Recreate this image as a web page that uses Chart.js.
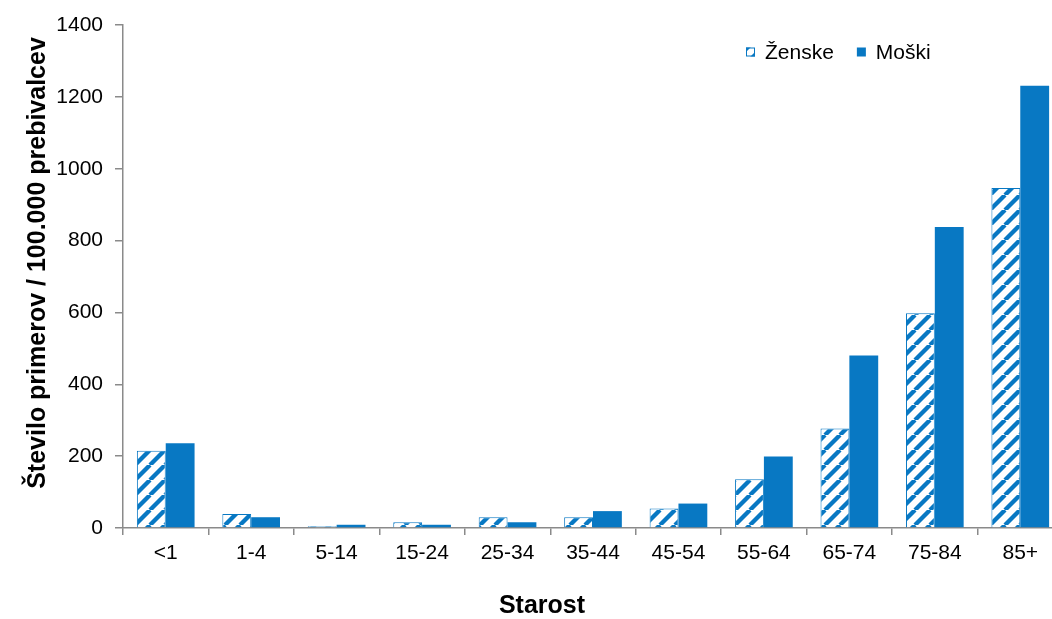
<!DOCTYPE html>
<html><head><meta charset="utf-8">
<script src="https://cdn.jsdelivr.net/npm/chart.js@4"></script>
<style>html,body{margin:0;padding:0;background:#fff;overflow:hidden}#wrap{width:1068px;height:619px}</style>
</head><body><div id="wrap"><canvas id="c" width="1068" height="619"></canvas></div>
<script>
const categories = ['<1','1-4','5-14','15-24','25-34','35-44','45-54','55-64','65-74','75-84','85+'];
const zenske = [215, 39, 5, 16, 30, 30, 54, 136, 277, 598, 946];
const moski = [236, 30, 9, 9, 16, 47, 68, 199, 480, 838, 1231];
const seriesLabels = ['Ženske', 'Moški'];
const yMin = 0, yMax = 1400, yStep = 200;
const yTitle = 'Število primerov / 100.000 prebivalcev';
const xTitle = 'Starost';

const BLUE = '#0878C3';
const AXIS = '#8a8a8a';
const FONT = '"Liberation Sans", Arial, sans-serif';

function hatch() {
  const s = 15;
  const c = document.createElement('canvas');
  c.width = c.height = s;
  const g = c.getContext('2d');
  g.fillStyle = '#fff';
  g.fillRect(0, 0, s, s);
  g.strokeStyle = BLUE;
  g.lineWidth = 4.3;
  g.beginPath();
  for (const k of [-s, 0, s]) { g.moveTo(k, s); g.lineTo(k + s, 0); }
  g.stroke();
  return g.createPattern(c, 'repeat');
}
const hatchPattern = hatch();

const overlay = {
  id: 'overlay',
  afterDraw(chart) {
    const ctx = chart.ctx;
    ctx.save();
    ctx.fillStyle = '#000';
    ctx.font = 'bold 25px ' + FONT;
    ctx.textAlign = 'center';
    ctx.textBaseline = 'middle';
    ctx.fillText(xTitle, 542, 606);
    ctx.save();
    ctx.translate(38, 263);
    ctx.rotate(-Math.PI / 2);
    ctx.fillText(yTitle, 0, 0);
    ctx.restore();
    ctx.font = '21px ' + FONT;
    ctx.textAlign = 'left';
    let x = 746;
    const yc = 52, bs = 9;
    chart.data.datasets.forEach(ds => {
      ctx.fillStyle = ds.backgroundColor;
      ctx.fillRect(x, yc - bs / 2, bs, bs);
      if (ds.borderWidth) {
        ctx.strokeStyle = ds.borderColor;
        ctx.lineWidth = 1;
        ctx.strokeRect(x + 0.5, yc - bs / 2 + 0.5, bs - 1, bs - 1);
      }
      ctx.fillStyle = '#000';
      ctx.fillText(ds.label, x + bs + 10, yc + 1);
      x += bs + 10 + ctx.measureText(ds.label).width + 23;
    });
    ctx.restore();
  }
};

new Chart(document.getElementById('c'), {
  type: 'bar',
  data: {
    labels: categories,
    datasets: [
      { label: seriesLabels[0], data: zenske, backgroundColor: hatchPattern, borderColor: BLUE, borderWidth: 1 },
      { label: seriesLabels[1], data: moski, backgroundColor: BLUE, borderWidth: 0 }
    ]
  },
  options: {
    responsive: false,
    animation: false,
    events: [],
    layout: { padding: { top: 25, left: 0, right: 5, bottom: 0 } },
    datasets: { bar: { categoryPercentage: 0.675, barPercentage: 1.0 } },
    plugins: { legend: { display: false }, tooltip: { enabled: false } },
    scales: {
      x: {
        offset: true,
        grid: { offset: true, drawOnChartArea: false, drawTicks: true, tickLength: 7, color: AXIS, lineWidth: 1.5 },
        border: { color: AXIS, width: 1.5 },
        ticks: { color: '#000', font: { family: FONT, size: 21 }, padding: 6, maxRotation: 0, autoSkip: false },
        afterFit(s) { s.height = 91; s.paddingLeft = 0; s.paddingRight = 0; }
      },
      y: {
        min: yMin, max: yMax,
        grid: { drawOnChartArea: false, drawTicks: true, tickLength: 8, color: AXIS, lineWidth: 1.5 },
        border: { color: AXIS, width: 1.5 },
        ticks: { stepSize: yStep, color: '#000', font: { family: FONT, size: 21 }, padding: 12, callback: v => String(v) },
        afterFit(s) { s.width = 123; s.paddingTop = 0; s.paddingBottom = 0; }
      }
    }
  },
  plugins: [overlay]
});
</script>
</body></html>
